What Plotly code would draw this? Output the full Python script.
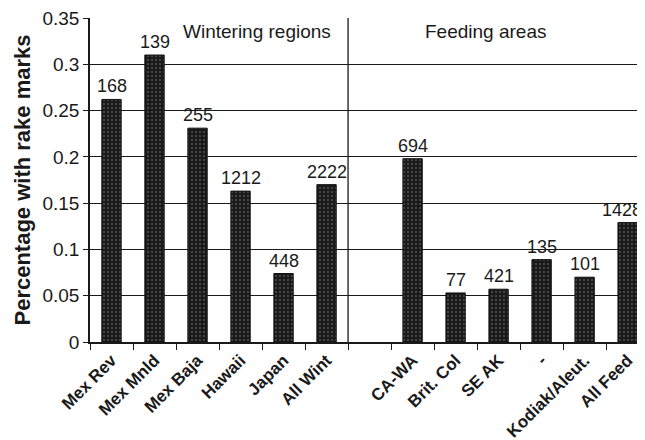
import plotly.graph_objects as go

categories = ["Mex Rev", "Mex Mnld", "Mex Baja", "Hawaii", "Japan", "All Wint", " ",
              "CA-WA", "Brit. Col", "SE AK", "-", "Kodiak/Aleut.", "All Feed"]
values = [0.262, 0.310, 0.231, 0.163, 0.074, 0.170, None,
          0.198, 0.053, 0.057, 0.089, 0.070, 0.129]
counts = ["168", "139", "255", "1212", "448", "2222", "",
          "694", "77", "421", "135", "101", "1428"]
y_ticks = [0, 0.05, 0.1, 0.15, 0.2, 0.25, 0.3, 0.35]
y_tick_labels = ["0", "0.05", "0.1", "0.15", "0.2", "0.25", "0.3", "0.35"]
group_labels = ["Wintering regions", "Feeding areas"]

FONT = "Liberation Sans, Arial, Helvetica, sans-serif"
INK = "#1a1a1a"

fig = go.Figure()
fig.add_trace(go.Bar(
    x=categories, y=values,
    cliponaxis=False,
    marker=dict(color="#1a1a1a", line=dict(color="#111", width=1),
                pattern=dict(shape=".", fgcolor="#8a8a8a", bgcolor="#1a1a1a",
                             size=4, solidity=0.2)),
    width=0.45,
))

# count labels above bars (last one nudged so it stays inside the window)
last = len(categories) - 1
for i, (cat, val, lab) in enumerate(zip(categories, values, counts)):
    if val is None or not lab:
        continue
    fig.add_annotation(x=cat, y=val, xref="x", yref="y", text=lab,
                       showarrow=False, yanchor="bottom", yshift=1,
                       xanchor="right" if i == last else "center",
                       xshift=16 if i == last else 0,
                       font=dict(family=FONT, size=18, color=INK))

# divider between the two groups
fig.add_shape(type="line", xref="x", yref="y", x0=5.5, x1=5.5, y0=0, y1=0.35,
              line=dict(color=INK, width=1.3))

fig.add_annotation(x=3.38, y=0.335, xref="x", yref="y", text=group_labels[0],
                   showarrow=False, font=dict(family=FONT, size=19, color=INK))
fig.add_annotation(x=8.7, y=0.335, xref="x", yref="y", text=group_labels[1],
                   showarrow=False, font=dict(family=FONT, size=19, color=INK))

fig.update_layout(
    width=645, height=440,
    margin=dict(l=82, r=0, t=10, b=106),
    paper_bgcolor="white", plot_bgcolor="white",
    showlegend=False,
    font=dict(family=FONT, color=INK),
)
fig.update_xaxes(
    type="category", range=[-0.5, 12.59], automargin=False,
    tickson="boundaries", ticks="outside", ticklen=6, tickcolor=INK,
    tickangle=-45, tickfont=dict(family=FONT, size=17, color=INK, weight="bold"),
    showline=True, linecolor=INK, linewidth=1.5, showgrid=False,
    ticklabeloverflow="allow",
)
fig.update_yaxes(
    range=[0, 0.35], tickvals=y_ticks, ticktext=y_tick_labels, automargin=False,
    ticks="outside", ticklen=5, tickcolor=INK,
    tickfont=dict(family=FONT, size=19, color=INK),
    showline=True, linecolor=INK, linewidth=1.5,
    showgrid=True, gridcolor=INK, gridwidth=1, zeroline=False,
    ticklabeloverflow="allow",
    title=dict(text="Percentage with rake marks", standoff=6,
               font=dict(family=FONT, size=22, color=INK, weight="bold")),
)

fig.write_html("out.html")
